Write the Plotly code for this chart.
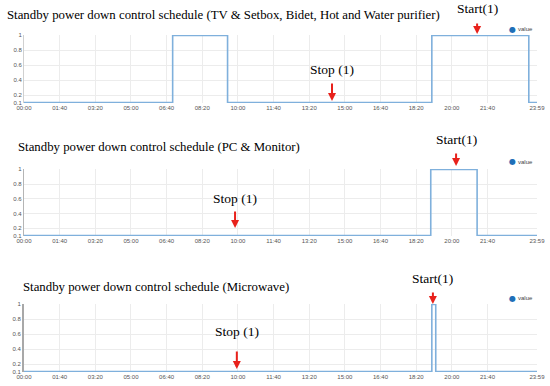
import plotly.graph_objects as go

# ---- data ----
panel_titles = [
    "Standby power down control schedule (TV & Setbox, Bidet, Hot and Water purifier)",
    "Standby power down control schedule (PC & Monitor)",
    "Standby power down control schedule (Microwave)",
]
times_tv = ["00:00", "06:57", "09:31", "19:04", "23:36", "23:59"]
values_tv = [0.1, 1, 0.1, 1, 0.1, 0.1]
times_pc = ["00:00", "19:01", "21:11", "23:59"]
values_pc = [0.1, 1, 0.1, 0.1]
times_mw = ["00:00", "19:04", "19:15", "23:59"]
values_mw = [0.1, 1, 0.1, 0.1]
start_times = ["21:11", "20:12", "19:07"]
stop_times = ["14:24", "09:52", "09:57"]
x_tick_labels = ["00:00", "01:40", "03:20", "05:00", "06:40", "08:20", "10:00",
                 "11:40", "13:20", "15:00", "16:40", "18:20", "20:00", "21:40", "23:59"]
y_tick_vals = [0.1, 0.2, 0.4, 0.6, 0.8, 1]
y_tick_labels = ["0.1", "0.2", "0.4", "0.6", "0.8", "1"]
series_name = "value"


def to_min(s):
    h, m = s.split(":")
    return int(h) * 60 + int(m)


W, H = 550, 386
def px(x):
    return x / W
def py(y):
    return 1 - y / H

# layout geometry (window pixels): top, bottom of each plot area
panels = [(35, 103), (169, 236), (304, 372)]
x_left, x_right = 24, 537
title_pos = [(5, 15), (16, 147), (21, 287)]
start_text_y = [9, 140, 278]
start_arrow = [(22, 34), (152, 166), (291, 304)]
stop_text_y = [70, 198, 331]
stop_arrow = [(82, 101), (210, 228), (350, 369)]
legend_y = [29, 162, 298]
axis_line = [("#d0d0d0", 1), ("#b5b5b5", 1.3), ("#a8a8a8", 2)]

series = [(times_tv, values_tv), (times_pc, values_pc), (times_mw, values_mw)]

fig = go.Figure()
layout = dict(
    width=W, height=H, margin=dict(l=0, r=0, t=0, b=0, autoexpand=False),
    paper_bgcolor="white", plot_bgcolor="white", showlegend=False,
)
annotations = []
xtick_vals = [to_min(t) for t in x_tick_labels]

for i, ((tms, vals), (top, bot)) in enumerate(zip(series, panels)):
    n = "" if i == 0 else str(i + 1)
    xa, ya = "x" + n, "y" + n
    fig.add_trace(go.Scatter(
        x=[to_min(t) for t in tms], y=vals, mode="lines", line_shape="hv",
        name=series_name, line=dict(color="#7fb0dc", width=1.6), xaxis=xa, yaxis=ya,
        showlegend=False, hoverinfo="skip"))
    layout["xaxis" + n] = dict(
        domain=[px(x_left), px(x_right)], range=[0, 1439], anchor=ya,
        tickvals=xtick_vals, ticktext=x_tick_labels, automargin=False,
        tickfont=dict(size=6, color="#555", family="Liberation Sans"),
        showgrid=True, gridcolor="#ececec", gridwidth=1, zeroline=False,
        showline=False, ticks="", ticklen=2)
    layout["yaxis" + n] = dict(
        domain=[py(bot), py(top)], range=[0.095, 1.005], anchor=xa,
        tickvals=y_tick_vals, ticktext=y_tick_labels, automargin=False,
        tickfont=dict(size=6, color="#555", family="Liberation Sans"),
        showgrid=True, gridcolor="#ececec", gridwidth=1, zeroline=False,
        showline=True, linecolor=axis_line[i][0], linewidth=axis_line[i][1],
        ticks="", ticklen=2)
    # legend (dot + label)
    annotations.append(dict(
        text="●", xref="paper", yref="paper", x=px(512), y=py(legend_y[i]),
        xanchor="center", yanchor="middle", showarrow=False,
        font=dict(size=8, color="#1f6fb8", family="DejaVu Sans")))
    annotations.append(dict(
        text=series_name, xref="paper", yref="paper", x=px(515.5), y=py(legend_y[i]),
        xanchor="left", yanchor="middle", showarrow=False,
        font=dict(size=6, color="#444", family="Liberation Sans")))
    # title
    annotations.append(dict(
        text=panel_titles[i], xref="paper", yref="paper",
        x=px(title_pos[i][0]), y=py(title_pos[i][1]), xanchor="left", yanchor="middle",
        showarrow=False, font=dict(family="Liberation Serif", size=12.8, color="black")))
    # start / stop labels and arrows
    for t, ty, (a0, a1), label in [
        (start_times[i], start_text_y[i], start_arrow[i], "Start(1)"),
        (stop_times[i], stop_text_y[i], stop_arrow[i], "Stop (1)"),
    ]:
        annotations.append(dict(
            text=label, xref=xa, yref="paper", x=to_min(t), y=py(ty),
            xanchor="center", yanchor="middle", showarrow=False,
            font=dict(family="Liberation Serif", size=13.5, color="black")))
        annotations.append(dict(
            text="", xref=xa, yref="paper", x=to_min(t), y=py(a1),
            showarrow=True, ax=0, ay=-(a1 - a0), arrowcolor="#e8211b",
            arrowwidth=2, arrowhead=2, arrowsize=0.8))

layout["annotations"] = annotations
fig.update_layout(**layout)
fig.write_html(
    "out.html",
    config={"displayModeBar": False},
    post_script="document.body.style.margin='0';document.body.style.overflow='hidden';",
)
